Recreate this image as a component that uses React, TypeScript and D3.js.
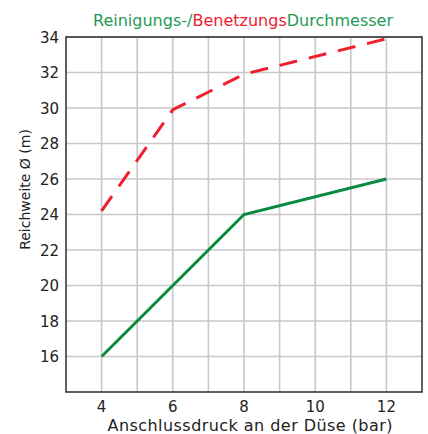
import React from "react";
import * as d3 from "d3";

const pressure = [4, 8, 12];
const cleaningDiameter = [16, 24, 26];
const wettingPressure = [4, 6, 8, 10, 12];
const wettingDiameter = [24.2, 29.9, 31.9, 32.9, 33.9];
const xTicks = [4, 6, 8, 10, 12];
const yTicks = [16, 18, 20, 22, 24, 26, 28, 30, 32, 34];
const xGrid = [4, 5, 6, 7, 8, 9, 10, 11, 12];

const W = 428;
const H = 434;
const L = 66, R = 422, T = 37, B = 392;
const GREEN = "#0b8a3e";
const TITLE_GREEN = "#1f9a55";
const RED = "#ee2030";
const FONT = "DejaVu Sans, Verdana, sans-serif";

export default function App() {
  const x = d3.scaleLinear().domain([3, 13]).range([L, R]);
  const y = d3.scaleLinear().domain([14, 34]).range([B, T]);
  const line = d3
    .line<[number, number]>()
    .x((d) => x(d[0]))
    .y((d) => y(d[1]));
  const green = line(pressure.map((p, i) => [p, cleaningDiameter[i]]));
  const red = line(wettingPressure.map((p, i) => [p, wettingDiameter[i]]));
  return (
    <svg
      width={W}
      height={H}
      style={{ position: "absolute", left: 0, top: 0, background: "#fff" }}
      fontFamily={FONT}
    >
      <rect x={0} y={0} width={W} height={H} fill="#fff" />
      {xGrid.map((v) => (
        <line key={"gx" + v} x1={x(v)} x2={x(v)} y1={T} y2={B} stroke="#c8c8c8" strokeWidth={1.6} />
      ))}
      {yTicks.map((v) => (
        <line key={"gy" + v} x1={L} x2={R} y1={y(v)} y2={y(v)} stroke="#c8c8c8" strokeWidth={1.6} />
      ))}
      <rect x={L} y={T} width={R - L} height={B - T} fill="none" stroke="#2b2b2b" strokeWidth={1.5} />
      <path d={green ?? ""} fill="none" stroke={GREEN} strokeWidth={3} strokeLinejoin="miter" />
      <path
        d={red ?? ""}
        fill="none"
        stroke={RED}
        strokeWidth={3}
        strokeDasharray="18 12"
      />
      {yTicks.map((v) => (
        <text key={"ty" + v} x={L - 7} y={y(v) + 5.5} textAnchor="end" fontSize={15} fill="#222">
          {v}
        </text>
      ))}
      {xTicks.map((v) => (
        <text key={"tx" + v} x={x(v)} y={412} textAnchor="middle" fontSize={15} fill="#222">
          {v}
        </text>
      ))}
      <text
        x={(L + R) / 2 + 6}
        y={431}
        textAnchor="middle"
        fontSize={16}
        textLength={285}
        lengthAdjust="spacing"
        fill="#222"
      >
        Anschlussdruck an der Düse (bar)
      </text>
      <text
        transform={`translate(30,${(T + B) / 2 - 25}) rotate(-90)`}
        textAnchor="middle"
        fontSize={14}
        fill="#222"
      >
        Reichweite Ø (m)
      </text>
      <text x={(L + R) / 2 - 1} y={26} textAnchor="middle" fontSize={16} textLength={300} lengthAdjust="spacing">
        <tspan fill={TITLE_GREEN}>Reinigungs-/</tspan>
        <tspan fill={RED}>Benetzungs</tspan>
        <tspan fill={TITLE_GREEN}>Durchmesser</tspan>
      </text>
    </svg>
  );
}
